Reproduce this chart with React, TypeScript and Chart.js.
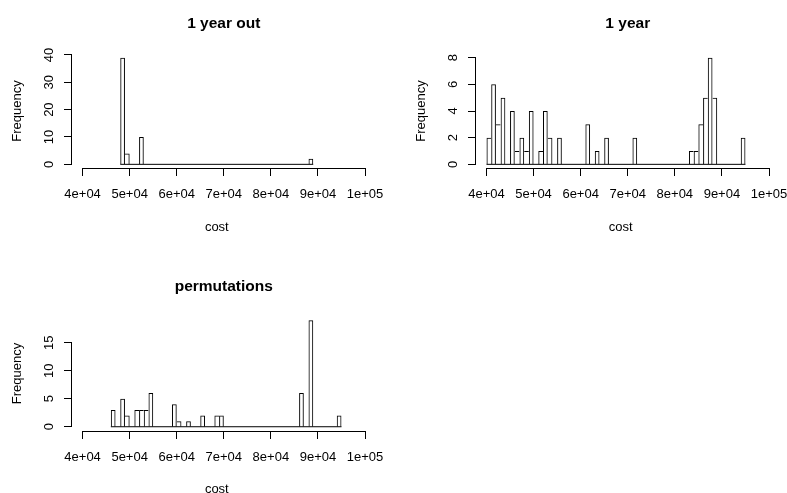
import React, { useEffect, useRef } from "react";
import { Chart, registerables } from "chart.js";

Chart.register(...registerables);

// ---------- data ----------
const BIN_WIDTH = 1000;
const X_LIMITS = [40000, 100000];
const X_TICKS = [40000, 50000, 60000, 70000, 80000, 90000, 100000];
const X_TICK_LABELS = ["4e+04", "5e+04", "6e+04", "7e+04", "8e+04", "9e+04", "1e+05"];

// "1 year out"
const OUT_RANGE = [48000, 89000];
const OUT_BINS = [48000, 49000, 52000, 88000];
const OUT_FREQ = [39, 4, 10, 2];
const OUT_Y_TICKS = [0, 10, 20, 30, 40];

// "1 year"
const YEAR_RANGE = [40000, 95000];
const YEAR_BINS = [40000, 41000, 42000, 43000, 45000, 46000, 47000, 48000, 49000, 51000, 52000, 53000, 55000, 61000, 63000, 65000, 71000, 83000, 84000, 85000, 86000, 87000, 88000, 94000];
const YEAR_FREQ = [2, 6, 3, 5, 4, 1, 2, 1, 4, 1, 4, 2, 2, 3, 1, 2, 2, 1, 1, 3, 5, 8, 5, 2];
const YEAR_Y_TICKS = [0, 2, 4, 6, 8];

// "permutations"
const PERM_RANGE = [46000, 95000];
const PERM_BINS = [46000, 48000, 49000, 51000, 52000, 53000, 54000, 59000, 60000, 62000, 65000, 68000, 69000, 86000, 88000, 94000];
const PERM_FREQ = [3, 5, 2, 3, 3, 3, 6, 4, 1, 1, 2, 2, 2, 6, 19, 2];
const PERM_Y_TICKS = [0, 5, 10, 15];

const TITLES = ["1 year out", "1 year", "permutations"];
const X_TITLE = "cost";
const Y_TITLE = "Frequency";

// ---------- layout / style ----------
const PAGE_W = 787;
const PAGE_H = 493;
const FONT = '"Liberation Sans", Arial, sans-serif';

const PANELS = [
  { title: TITLES[0], range: OUT_RANGE, bins: OUT_BINS, freq: OUT_FREQ, yTicks: OUT_Y_TICKS, area: { left: 71.3, top: 53.4, right: 376.3, bottom: 168.6 } },
  { title: TITLES[1], range: YEAR_RANGE, bins: YEAR_BINS, freq: YEAR_FREQ, yTicks: YEAR_Y_TICKS, area: { left: 475.2, top: 53.4, right: 780.3, bottom: 168.6 } },
  { title: TITLES[2], range: PERM_RANGE, bins: PERM_BINS, freq: PERM_FREQ, yTicks: PERM_Y_TICKS, area: { left: 71.3, top: 316.0, right: 376.3, bottom: 431.0 } },
];

function fullBins(range: number[], bins: number[], freq: number[]) {
  const lefts: number[] = [];
  const counts: number[] = [];
  for (let b = range[0]; b < range[1]; b += BIN_WIDTH) {
    lefts.push(b);
    const k = bins.indexOf(b);
    counts.push(k >= 0 ? freq[k] : 0);
  }
  return { lefts, counts };
}

const rAxesPlugin = {
  id: "rAxes",
  afterDraw(chart: any, _args: any, opts: any) {
    const { ctx, chartArea } = chart;
    const xs = chart.scales.x;
    const ys = chart.scales.y;
    const TICK = 7;
    ctx.save();
    ctx.strokeStyle = "#000";
    ctx.fillStyle = "#000";
    ctx.lineWidth = 1;
    ctx.lineCap = "square";

    // x axis
    const xt = xs.ticks.map((t: any) => t.value);
    const px = (v: number) => Math.floor(xs.getPixelForValue(v)) + 0.5;
    const ay = Math.floor(chartArea.bottom) + 0.5;
    ctx.beginPath();
    ctx.moveTo(px(xt[0]), ay);
    ctx.lineTo(px(xt[xt.length - 1]), ay);
    xt.forEach((v: number) => {
      ctx.moveTo(px(v), ay);
      ctx.lineTo(px(v), ay + TICK);
    });
    ctx.stroke();

    // y axis
    const yt = ys.ticks.map((t: any) => t.value);
    const py = (v: number) => Math.floor(ys.getPixelForValue(v)) + 0.5;
    const ax = Math.floor(chartArea.left) + 0.5;
    ctx.beginPath();
    ctx.moveTo(ax, py(yt[0]));
    ctx.lineTo(ax, py(yt[yt.length - 1]));
    yt.forEach((v: number) => {
      ctx.moveTo(ax, py(v));
      ctx.lineTo(ax - TICK, py(v));
    });
    ctx.stroke();

    // x tick labels
    ctx.font = `13px ${FONT}`;
    ctx.textAlign = "center";
    ctx.textBaseline = "alphabetic";
    xt.forEach((v: number, i: number) => {
      ctx.fillText(opts.xLabels[i], xs.getPixelForValue(v), chartArea.bottom + 29.7);
    });

    // y tick labels (rotated, parallel to axis)
    yt.forEach((v: number) => {
      ctx.save();
      ctx.translate(chartArea.left - 18.6, ys.getPixelForValue(v));
      ctx.rotate(-Math.PI / 2);
      ctx.fillText(String(v), 0, 0);
      ctx.restore();
    });

    // axis titles
    const cx = (chartArea.left + chartArea.right) / 2;
    const cy = (chartArea.top + chartArea.bottom) / 2;
    ctx.fillText(opts.xTitle, cx - 7, chartArea.bottom + 62);
    ctx.save();
    ctx.translate(chartArea.left - 50.7, cy);
    ctx.rotate(-Math.PI / 2);
    ctx.fillText(opts.yTitle, 0, 0);
    ctx.restore();

    // main title
    ctx.font = `bold 15.5px ${FONT}`;
    ctx.fillText(opts.title, cx, chartArea.top - 25);
    ctx.restore();
  },
};

function HistPanel({ panel }: { panel: (typeof PANELS)[number] }) {
  const ref = useRef<HTMLCanvasElement | null>(null);
  useEffect(() => {
    if (!ref.current) return;
    const { lefts, counts } = fullBins(panel.range, panel.bins, panel.freq);
    const n = counts.length;
    const xExt = (X_LIMITS[1] - X_LIMITS[0]) * 0.04;
    const yMax = Math.max(...panel.freq);
    const yExt = yMax * 0.04;
    const { left, top, right, bottom } = panel.area;

    const chart = new Chart(ref.current, {
      type: "bar",
      data: {
        datasets: [
          {
            type: "bar",
            data: lefts.map((l, i) => ({ x: l + BIN_WIDTH / 2, y: counts[i] })),
            backgroundColor: "rgba(0,0,0,0)",
            borderColor: "#000",
            borderSkipped: false,
            inflateAmount: 0,
            barPercentage: 1,
            categoryPercentage: 1,
            borderWidth: (c: any) => {
              const i = c.dataIndex;
              const h = counts[i] ?? 0;
              const prev = i > 0 ? counts[i - 1] : 0;
              const next = i < n - 1 ? counts[i + 1] : 0;
              return { top: 1, bottom: 0, left: prev <= h ? 1 : 0, right: next < h ? 1 : 0 };
            },
          } as any,
          {
            type: "line",
            data: [
              { x: panel.range[0], y: 0 },
              { x: panel.range[1], y: 0 },
            ],
            borderColor: "#000",
            borderWidth: 1,
            pointRadius: 0,
            fill: false,
            tension: 0,
          } as any,
        ],
      },
      options: {
        responsive: false,
        maintainAspectRatio: false,
        animation: false,
        events: [],
        layout: {
          autoPadding: false,
          padding: { left, top, right: PAGE_W - right, bottom: PAGE_H - bottom },
        },
        plugins: {
          legend: { display: false },
          tooltip: { enabled: false },
          title: { display: false },
          rAxes: { title: panel.title, xTitle: X_TITLE, yTitle: Y_TITLE, xLabels: X_TICK_LABELS },
        } as any,
        scales: {
          x: {
            type: "linear",
            display: false,
            offset: false,
            min: X_LIMITS[0] - xExt,
            max: X_LIMITS[1] + xExt,
            afterBuildTicks: (s: any) => {
              s.ticks = X_TICKS.map((v) => ({ value: v }));
            },
          },
          y: {
            type: "linear",
            display: false,
            min: -yExt,
            max: yMax + yExt,
            afterBuildTicks: (s: any) => {
              s.ticks = panel.yTicks.map((v) => ({ value: v }));
            },
          },
        },
      } as any,
      plugins: [rAxesPlugin as any],
    });
    return () => chart.destroy();
  }, [panel]);

  return (
    <canvas
      ref={ref}
      width={PAGE_W}
      height={PAGE_H}
      style={{ position: "absolute", left: 0, top: 0, width: PAGE_W, height: PAGE_H }}
    />
  );
}

export default function App() {
  return (
    <div
      style={{
        position: "absolute",
        left: 0,
        top: 0,
        width: PAGE_W,
        height: PAGE_H,
        background: "#fff",
        overflow: "hidden",
      }}
    >
      {PANELS.map((p, i) => (
        <HistPanel key={i} panel={p} />
      ))}
    </div>
  );
}
